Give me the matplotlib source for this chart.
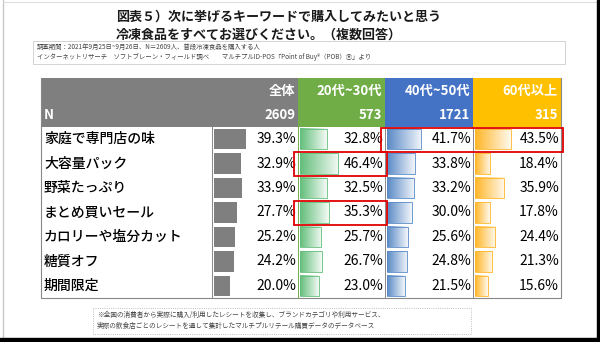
import matplotlib; matplotlib.use('Agg')
import matplotlib.pyplot as plt
import numpy as np
from matplotlib.patches import Rectangle
from matplotlib.colors import LinearSegmentedColormap

plt.rcParams['font.family'] = ['Noto Sans CJK JP', 'DejaVu Sans']

TITLE = ['図表５）次に挙げるキーワードで購入してみたいと思う', '冷凍食品をすべてお選びください。（複数回答）']
NOTE_TOP = ['調査期間：2021年9月25日~9月26日、N＝2609人、普段冷凍食品を購入する人',
            'インターネットリサーチ　ソフトブレーン・フィールド調べ　　マルチプルID-POS「Point of Buy®（POB）Ⓡ」より']
NOTE_BOTTOM = ['※全国の消費者から実際に購入/利用したレシートを収集し、ブランドカテゴリや利用サービス、',
               '実際の飲食店ごとのレシートを通して集計したマルチプルリテール購買データのデータベース']

groups = ['全体', '20代~30代', '40代~50代', '60代以上']
group_n = [2609, 573, 1721, 315]
items = ['家庭で専門店の味', '大容量パック', '野菜たっぷり', 'まとめ買いセール',
         'カロリーや塩分カット', '糖質オフ', '期間限定']
total = [39.3, 32.9, 33.9, 27.7, 25.2, 24.2, 20.0]
age_20_30 = [32.8, 46.4, 32.5, 35.3, 25.7, 26.7, 23.0]
age_40_50 = [41.7, 33.8, 33.2, 30.0, 25.6, 24.8, 21.5]
age_60 = [43.5, 18.4, 35.9, 17.8, 24.4, 21.3, 15.6]
# highlighted cells: (row, first column, last column)
highlights = [(0, 2, 3), (1, 1, 1), (3, 1, 1)]

head_colors = ['#7f7f7f', '#70ad47', '#4472c4', '#ffc000']
bar_colors = ['#7f7f7f', '#63be7b', '#5a8ac6', '#ffb628']

fig = plt.figure(figsize=(6, 3.42), dpi=100)
ax = fig.add_axes([0, 0, 1, 1])
ax.set_xlim(0, 600); ax.set_ylim(342, 0); ax.axis('off')

# frame
ax.add_patch(Rectangle((597, 0), 3, 342, color='black', zorder=10))
ax.add_patch(Rectangle((0, 338), 600, 4, color='black', zorder=10))
ax.plot([3, 3], [0, 338], color='#c8c8c8', lw=1)
ax.plot([3, 597], [2, 2], color='#dddddd', lw=0.8)

for i, t in enumerate(TITLE):
    ax.text(116, 17 + i * 18, t, fontsize=9.4, fontweight='bold', va='center', ha='left', color='#1a1a1a')

ax.add_patch(Rectangle((33, 41), 532, 23, fill=False, ec='#cccccc', lw=0.6))
for i, t in enumerate(NOTE_TOP):
    ax.text(37, 47 + i * 10, t, fontsize=4.6, va='center', color='#444444')

# table geometry
x_lab, col_edges = 41, [212, 298, 385, 473, 561]
y_top, y_head, y_bot = 78, 127, 298
row_h = (y_bot - y_head) / len(items)
px_per_pct = 0.82

# header
ax.add_patch(Rectangle((x_lab, y_top), col_edges[1] - x_lab, y_head - y_top, color=head_colors[0], lw=0))
for j in range(1, 4):
    ax.add_patch(Rectangle((col_edges[j], y_top), col_edges[j + 1] - col_edges[j], y_head - y_top,
                           color=head_colors[j], lw=0))
for j, (g, n) in enumerate(zip(groups, group_n)):
    ax.text(col_edges[j + 1] - 3, 91, g, color='white', fontsize=9.5, fontweight='bold', ha='right', va='center')
    ax.text(col_edges[j + 1] - 3, 115, str(n), color='white', fontsize=9.5, fontweight='bold', ha='right', va='center')
ax.text(x_lab + 3, 115, 'N', color='white', fontsize=9.5, fontweight='bold', ha='left', va='center')

# body
series = [total, age_20_30, age_40_50, age_60]
for i, lab in enumerate(items):
    yc = y_head + (i + 0.5) * row_h
    ax.text(x_lab + 3, yc, lab, fontsize=10, fontweight='medium', ha='left', va='center')
    for j, vals in enumerate(series):
        v = vals[i]
        x0 = col_edges[j] + 2
        w = v * px_per_pct
        y0, h = yc - row_h * 0.42, row_h * 0.84
        if j == 0:
            ax.add_patch(Rectangle((x0, y0), w, h, color=bar_colors[0], lw=0))
        else:
            cmap = LinearSegmentedColormap.from_list('g', [bar_colors[j], '#ffffff'])
            grad = np.linspace(0, 0.92, 64).reshape(1, -1)
            ax.imshow(grad, cmap=cmap, vmin=0, vmax=1, extent=(x0, x0 + w, y0 + h, y0),
                      aspect='auto', interpolation='bilinear', zorder=2)
            ax.add_patch(Rectangle((x0, y0), w, h, fill=False, ec=bar_colors[j], lw=0.6, zorder=3))
        ax.text(col_edges[j + 1] - 2, yc, f'{v:.1f}%', fontsize=10, ha='right', va='center', zorder=4)

# grid lines
ax.plot([x_lab, x_lab, col_edges[-1], col_edges[-1]], [y_top, y_bot, y_bot, y_top], color='#888888', lw=0.8)
for j, xe in enumerate(col_edges[:-1]):
    c = '#70ad47' if j == 1 else '#888888'
    ax.plot([xe, xe], [y_head, y_bot], color=c, lw=0.7)

for r, c0, c1 in highlights:
    ya = y_head + r * row_h
    ax.add_patch(Rectangle((col_edges[c0] - 4, ya + 0.5), col_edges[c1 + 1] - col_edges[c0] + 6, row_h,
                           fill=False, ec='#e00000', lw=1.3, zorder=6))

ax.add_patch(Rectangle((93, 308), 378, 26, fill=False, ec='#aaaaaa', lw=0.6, ls=':'))
for i, t in enumerate(NOTE_BOTTOM):
    ax.text(97, 315 + i * 11, t, fontsize=4.8, va='center', color='#444444')

fig.savefig('out.png', dpi=100)
